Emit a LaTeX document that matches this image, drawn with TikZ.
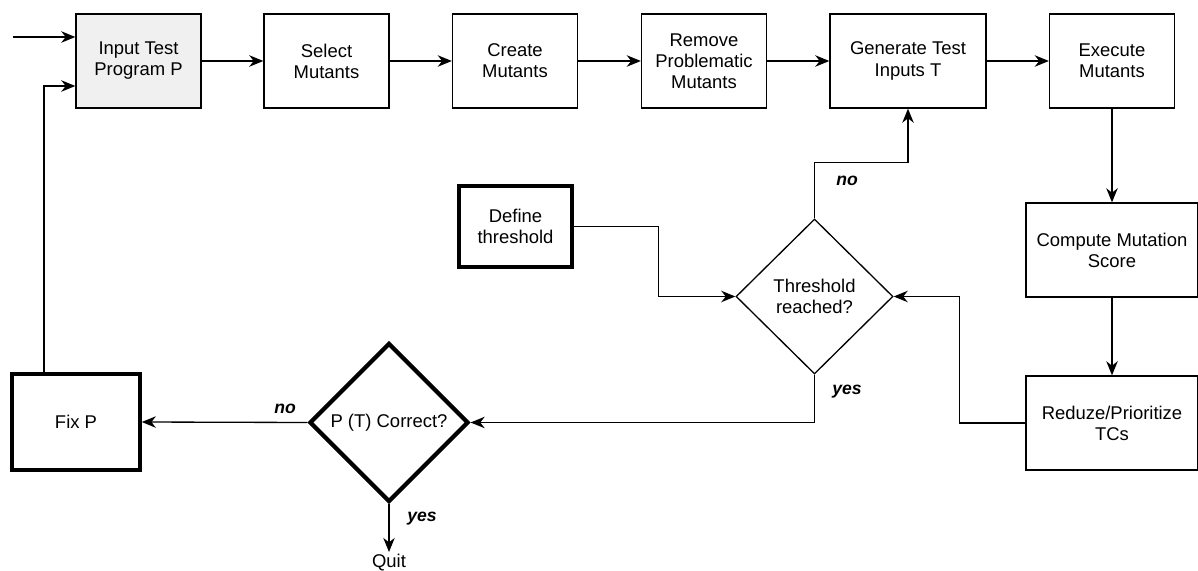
\documentclass[tikz,border=0pt]{standalone}
\usepackage{fontspec}
\setmainfont{Liberation Sans}
\usepackage{tikz}
\usetikzlibrary{shapes.geometric, arrows.meta, calc}
\tikzstyle{box}=[shape=rectangle, draw, line width=0.75pt, align=center, minimum width=125*0.02cm, minimum height=94*0.02cm, inner sep=2pt]
\tikzstyle{boldbox}=[box, line width=2pt]
\tikzstyle{decision}=[shape=diamond, draw, line width=0.75pt, align=center, inner sep=0pt]
\tikzstyle{lbl}=[font=\bfseries\itshape, inner sep=1pt]
\tikzstyle{flow}=[line width=0.75pt, -{Stealth[length=8pt, width=6.5pt, inset=2.5pt]}]

\begin{document}
\begin{tikzpicture}[x=0.02cm, y=-0.02cm, font=\fontsize{10.5}{12}\selectfont]
\useasboundingbox (0,0) rectangle (1198,571);
\node[box, fill=gray!12] (inp) at (138.5,61) {Input Test\\Program P};
\node[box] (sel) at (326.5,61) {Select\\Mutants};
\node[box] (cre) at (515,61) {Create\\Mutants};
\node[box] (rem) at (704,61) {Remove\\Problematic\\Mutants};
\node[box, minimum width=156*0.02cm] (gen) at (908,61) {Generate Test\\Inputs T};
\node[box] (exe) at (1112,61) {Execute\\Mutants};
\node[box, minimum width=172*0.02cm] (comp) at (1112,250) {Compute Mutation\\Score};
\node[box, minimum width=172*0.02cm] (red) at (1112,423) {Reduze/Prioritize\\TCs};
\node[decision, minimum width=157*0.02cm, minimum height=155*0.02cm] (thr) at (814.5,296.5) {Threshold\\reached?};
\node[boldbox, minimum width=113*0.02cm, minimum height=81*0.02cm] (def) at (515.5,226.5) {Define\\threshold};
\node[decision, line width=2.4pt, minimum width=159*0.02cm, minimum height=159*0.02cm] (pt) at (389,422.5) {P (T) Correct?};
\node[boldbox, minimum width=128*0.02cm, minimum height=96*0.02cm] (fix) at (76,422) {Fix P};
\node[inner sep=1pt, anchor=north] (quit) at (389,552) {Quit};
\coordinate (start) at (13,37);
\node[lbl] (no1) at (847,181) {no};
\node[lbl] (yes1) at (847,392) {yes};
\node[lbl] (no2) at (285,409) {no};
\node[lbl] (yes2) at (422,519) {yes};

\draw[flow] (start) -- (start -| inp.west);
\draw[flow] ($(fix.north)+(-32,0)$) |- ($(inp.west)+(0,25)$);
\draw[flow] (inp) -- (sel);
\draw[flow] (sel) -- (cre);
\draw[flow] (cre) -- (rem);
\draw[flow] (rem) -- (gen);
\draw[flow] (gen) -- (exe);
\draw[flow] (exe) -- (comp);
\draw[flow] (comp) -- (red);
\draw[flow] (red.west) -- ++(-66,0) |- (thr.east);
\draw[flow] (def.east) -- ++(85,0) |- (thr.west);
\draw[flow] (thr.north) -- ++(0,-56) -| (gen.south);
\draw[flow] (thr.south) |- (pt.east);
\draw[flow] (pt.west) -- (fix.east);
\draw[flow] (pt.south) -- (quit.north);
\end{tikzpicture}
\end{document}
